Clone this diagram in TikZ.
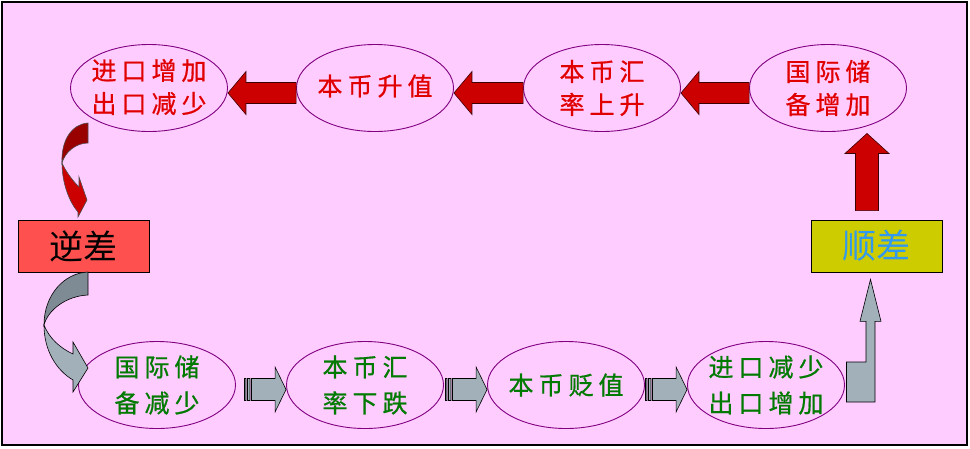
\documentclass[tikz,border=0pt]{standalone}
\usepackage{fontspec}
\newfontfamily\cjk{Noto Sans CJK SC}
\newfontfamily\cjkm{Noto Sans CJK SC}[FakeBold=0.7]
\usetikzlibrary{shapes.geometric,calc}
\definecolor{bgpink}{HTML}{FFCCFF}
\definecolor{ellcol}{HTML}{800080}
\definecolor{arrred}{HTML}{CC0000}
\definecolor{arrdark}{HTML}{990000}
\definecolor{arrgray}{HTML}{A2B0BA}
\definecolor{arrgraydark}{HTML}{7F8B94}
\definecolor{txtred}{HTML}{E00000}
\definecolor{txtgreen}{HTML}{007A00}
\definecolor{boxred}{HTML}{FF5050}
\definecolor{boxolive}{HTML}{CCCC00}
\definecolor{txtblue}{HTML}{3399EE}
\newcommand\gp{\hspace{5pt}}
\newcommand\redL[2]{%
  \draw[redarr] let \p1=(#1.east), \p2=(#2.west) in
  (\x1,\y1-5pt) -- (\x1+18pt,\y1+16.5pt) -- (\x1+18pt,\y1+5.5pt) --
  (\x2,\y1+5.5pt) -- (\x2,\y1-15.5pt) -- (\x1+18pt,\y1-15.5pt) --
  (\x1+18pt,\y1-26.5pt) -- cycle;}
\newcommand\grayR[3]{%
  \draw[grayarr] let \p1=(#1.east), \p2=(#2.west) in
  (\x1+#3pt,\y1+6.5pt) rectangle (\x1+#3pt+1.5pt,\y1-15.5pt)
  (\x1+#3pt+3pt,\y1+6.5pt) rectangle (\x1+#3pt+5.5pt,\y1-15.5pt)
  (\x1+#3pt+7pt,\y1+6.5pt) -- (\x2-11pt,\y1+6.5pt) -- (\x2-11pt,\y1+18pt) --
  (\x2,\y1-4.5pt) -- (\x2-11pt,\y1-27pt) -- (\x2-11pt,\y1-15.5pt) --
  (\x1+#3pt+7pt,\y1-15.5pt) -- cycle;}
\begin{document}
\begin{tikzpicture}[x=1pt,y=-1pt,
  ell/.style={ellipse, draw=ellcol, line width=0.9pt, minimum width=157pt, minimum height=87pt, inner sep=0pt},
  rtxt/.style={text=txtred, font=\cjkm\fontsize{25}{33}\selectfont, align=center, inner sep=0pt},
  gtxt/.style={text=txtgreen, font=\cjkm\fontsize{25}{36}\selectfont, align=center, inner sep=0pt},
  redarr/.style={fill=arrred, draw=black!60!arrdark, line width=0.6pt},
  grayarr/.style={fill=arrgray, draw=black, line width=0.6pt},
  tagbox/.style={draw=black, line width=0.8pt, minimum width=131pt, minimum height=52pt, inner sep=0pt, font=\cjk\fontsize{34}{40}\selectfont}]
\useasboundingbox (0,0) rectangle (970,448);
\fill[white] (0,0) rectangle (970,448);
\draw[fill=bgpink, line width=1.5pt] (2,2) rectangle (967,445);

% top row
\node[ell] (E1) at (149,88) {};
\node[ell] (E2) at (375,88) {};
\node[ell] (E3) at (602,88) {};
\node[ell] (E4) at (828,88) {};
\node[rtxt] (T1) at ([yshift=1pt]E1.center) {进\gp 口\gp 增\gp 加\\出\gp 口\gp 减\gp 少};
\node[rtxt] (T2) at ([yshift=2pt]E2.center) {本\gp 币\gp 升\gp 值};
\node[rtxt] (T3) at (E3) {本\gp 币\gp 汇\\率\gp 上\gp 升};
\node[rtxt] (T4) at (E4) {国\gp 际\gp 储\\备\gp 增\gp 加};

% bottom row
\node[ell] (B1) at (157,385) {};
\node[ell] (B2) at (365,385) {};
\node[ell] (B3) at (566,385) {};
\node[ell] (B4) at (766,385) {};
\node[gtxt] (U1) at (B1) {国\gp 际\gp 储\\备\gp 减\gp 少};
\node[gtxt] (U2) at (B2) {本\gp 币\gp 汇\\率\gp 下\gp 跌};
\node[gtxt] (U3) at (B3) {本\gp 币\gp 贬\gp 值};
\node[gtxt] (U4) at (B4) {进\gp 口\gp 减\gp 少\\出\gp 口\gp 增\gp 加};

% boxes
\node[tagbox, fill=boxred, text=black] (N) at (83.5,246) {逆差};
\node[tagbox, fill=boxolive, text=txtblue] (S) at (876.5,246) {顺差};

% top arrows (pointing left)
\redL{E1}{E2}
\redL{E2}{E3}
\redL{E3}{E4}

% red up arrow from S to E4
\draw[redarr] let \p1=(S.north), \p2=(E4.south) in
  (\x1-9.5pt,\y2-1.5pt) -- (\x1+12.5pt,\y2-21.5pt) -- (\x1+2pt,\y2-21.5pt) --
  (\x1+2pt,\y1+9pt) -- (\x1-21pt,\y1+9pt) -- (\x1-21pt,\y2-21.5pt) --
  (\x1-31.5pt,\y2-21.5pt) -- cycle;

% bottom arrows (pointing right, striped tails)
\grayR{B1}{B2}{8.5}
\grayR{B2}{B3}{1.5}
\grayR{B3}{B4}{0.5}

% bent-up arrow from B4 to S
\draw[grayarr] let \p1=(B4.east), \p2=(S.south) in
  (\x1+1.5pt,\y1+23pt) -- (\x2-10.5pt,\y1+23pt) -- (\x2-10.5pt,\y2-49pt) --
  (\x2-16.5pt,\y2-49pt) -- (\x2-6pt,\y2-7pt) -- (\x2+4.5pt,\y2-49pt) --
  (\x2-1.5pt,\y2-49pt) -- (\x2-1.5pt,\y1-17pt) -- (\x1+1.5pt,\y1-17pt) -- cycle;

% red curved arrow from E1 to N
\draw[fill=arrdark, draw=black!70, line width=0.6pt]
  (88,123) .. controls (72,124) and (61,140) .. (62,163)
  .. controls (65,152) and (76,143) .. (88,143) -- cycle;
\draw[fill=arrred, draw=black!70, line width=0.6pt]
  (62,163) .. controls (66,172) and (73,181) .. (79,187) -- (79,177) -- (87,200) -- (78,217) -- (78,212)
  .. controls (70,203) and (62,184) .. (62,163) -- cycle;

% gray curved arrow from N to B1
\draw[fill=arrgraydark, draw=black, line width=0.6pt]
  (88,272) .. controls (64,273) and (44,295) .. (44,325)
  .. controls (48,310) and (66,296) .. (88,295) -- cycle;
\draw[fill=arrgray, draw=black, line width=0.6pt]
  (44,325) .. controls (49,338) and (60,348) .. (73,354) -- (73,342) -- (88,368) -- (73,392) -- (73,380)
  .. controls (56,370) and (44,350) .. (44,325) -- cycle;
\end{tikzpicture}
\end{document}
